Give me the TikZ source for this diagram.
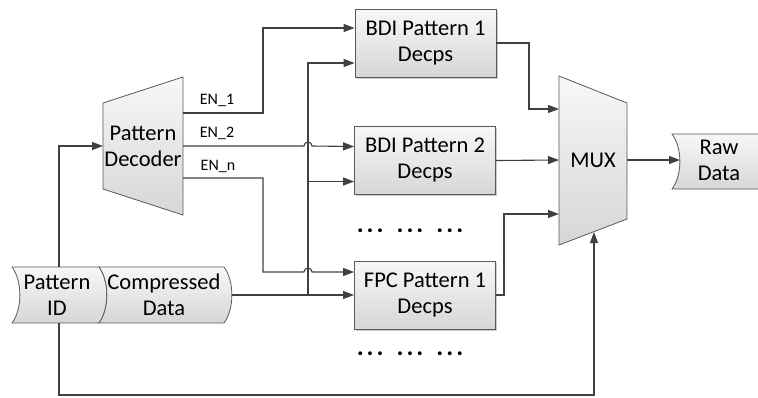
\documentclass[tikz,border=0pt]{standalone}
\usepackage{fontspec}
\setmainfont{Carlito}
\usetikzlibrary{arrows.meta,shadows}

\tikzset{
  wire/.style={draw=black!75, line width=1.1pt},
  arr/.style={wire, -{Triangle[length=11pt,width=8pt]}},
  shp/.style={draw=black!65, line width=0.8pt, top color=black!3, bottom color=black!16},
  blk/.style={shp, rectangle, minimum width=141pt, minimum height=68pt,
    drop shadow={shadow xshift=1.5pt, shadow yshift=-1.5pt, fill=black!40, opacity=0.5}},
  txt/.style={font=\fontsize{22.5}{26}\selectfont, align=center, inner sep=0pt},
  en/.style={font=\fontsize{16}{18}\selectfont, inner sep=0pt},
}
\newcommand\ddd{\textbf{.\kern3pt.\kern3pt.}}

\begin{document}
\begin{tikzpicture}[x=1pt, y=-1pt]
\useasboundingbox (0,0) rectangle (758,397);

% decompressor blocks
\node[blk, txt] (bdi1) at (425.5,43) {BDI Pattern 1\\Decps};
\node[blk, txt] (bdi2) at (425,160.5) {BDI Pattern 2\\Decps};
\node[blk, txt] (fpc) at (425,295) {FPC Pattern 1\\Decps};
\node[txt, font=\fontsize{26}{26}\selectfont] (dots1) at (410,231) {\ddd\hspace{13pt}\ddd\hspace{13pt}\ddd};
\node[txt, font=\fontsize{26}{26}\selectfont] (dots2) at (410,354) {\ddd\hspace{13pt}\ddd\hspace{13pt}\ddd};

% pattern decoder and mux
\draw[shp] (103,103) -- (183,77) -- (183,215) -- (103,189) -- cycle;
\node[txt] (dec) at (143,146) {Pattern\\Decoder};
\draw[shp] (559,76) -- (627,103) -- (627,219) -- (559,245) -- cycle;
\node[txt] (mux) at (593,160) {MUX};

% data words
\draw[shp] (12,267) .. controls (22.5,281) and (22.5,309) .. (12,323)
  -- (99,323) .. controls (109.5,309) and (109.5,281) .. (99,267) -- cycle;
\draw[shp] (99,267) .. controls (109.5,281) and (109.5,309) .. (99,323)
  -- (224,323) .. controls (234.5,309) and (234.5,281) .. (224,267) -- cycle;
\draw[shp] (672,134) .. controls (682.5,148) and (682.5,175) .. (672,189)
  -- (770,189) -- (770,134) -- cycle;
\node[txt] (pid) at (57,295) {Pattern\\ID};
\node[txt] (cd) at (164,295) {Compressed\\Data};
\node[txt] (raw) at (719,160) {Raw\\Data};

\coordinate (dec-in) at (103,146);
\coordinate (dec-en1) at (183,113);
\coordinate (dec-en2) at (183,146);
\coordinate (dec-enn) at (183,178);
\coordinate (pid-top) at (59,267);
\coordinate (pid-bot) at (59,323);
\coordinate (cd-out) at (232,295);
\coordinate (bus) at (308,295);
\coordinate (mux-in1) at (559,109);
\coordinate (mux-in2) at (559,160);
\coordinate (mux-in3) at (559,214);
\coordinate (mux-sel) at (594,232);
\coordinate (mux-out) at (627,160);
\coordinate (raw-in) at (680,160);

% enables
\draw[arr] (dec-en1) -| (263,28) -- ([yshift=15pt]bdi1.west);
\draw[arr] (dec-en2) -- (304,146) arc (180:360:4) -- ([yshift=14pt]bdi2.west);
\draw[arr] (dec-enn) -| (263,272) -- (304,272) arc (180:360:4) -- ([yshift=23pt]fpc.west);
\node[en] (en1) at (217,100) {EN\_1};
\node[en] (en2) at (217,133) {EN\_2};
\node[en] (enn) at (218,166) {EN\_n};

% compressed data bus
\draw[arr] (cd-out) -- (fpc.west);
\draw[arr] (bus) |- ([yshift=-20pt]bdi1.west);
\draw[arr] (bus) |- ([yshift=-21pt]bdi2.west);

% pattern id
\draw[arr] (pid-top) |- (dec-in);
\draw[arr] (pid-bot) -- (59,395) -| (mux-sel);

% into the mux
\draw[arr] (bdi1.east) -| (529,109) -- (mux-in1);
\draw[arr] (bdi2.east) -- (mux-in2);
\draw[arr] (fpc.east) -| (504,214) -- (mux-in3);
\draw[arr] (mux-out) -- (raw-in);
\end{tikzpicture}
\end{document}
